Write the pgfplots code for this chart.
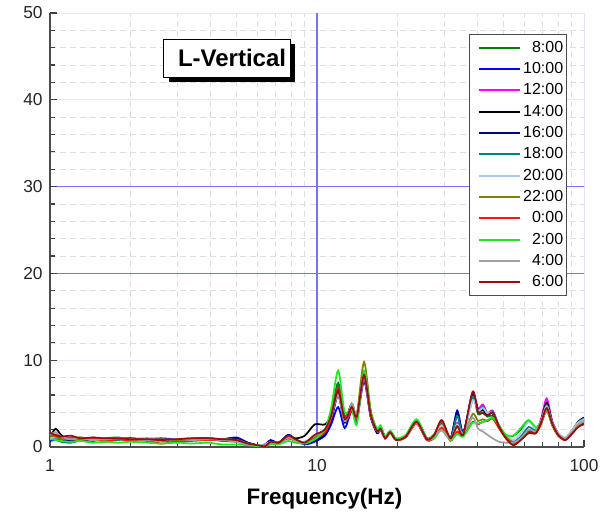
\documentclass[border=0pt]{standalone}
\usepackage{pgfplots}
\usepackage{pgfplotstable}
\pgfplotsset{compat=1.18}
\usepackage{fontspec}
\setmainfont{Liberation Sans}
\usetikzlibrary{shadows}

\definecolor{cA}{RGB}{0,128,0}
\definecolor{cB}{RGB}{0,0,255}
\definecolor{cC}{RGB}{255,0,255}
\definecolor{cD}{RGB}{0,0,0}
\definecolor{cE}{RGB}{0,0,128}
\definecolor{cF}{RGB}{0,128,128}
\definecolor{cG}{RGB}{166,202,240}
\definecolor{cH}{RGB}{128,128,0}
\definecolor{cI}{RGB}{255,20,20}
\definecolor{cJ}{RGB}{30,235,30}
\definecolor{cK}{RGB}{160,160,160}
\definecolor{cL}{RGB}{150,15,15}
\definecolor{gridblue}{RGB}{115,115,255}

\pgfplotstableread{
f    c8  c10 c12 c14 c16 c18 c20 c22 c0  c2  c4  c6
1.0  1.3 0.7 1.0 1.2 0.9 1.1 1.0 1.3 1.5 0.9 1.4 1.6
1.05 1.2 0.8 1.1 2.1 1.0 1.0 1.1 1.2 1.3 0.8 1.7 1.4
1.1  1.0 0.7 1.0 1.4 0.9 0.6 1.0 0.9 1.1 0.7 1.2 1.2
1.2  0.9 0.8 1.1 0.6 0.8 0.5 0.9 1.0 1.0 0.6 0.9 1.3
1.3  1.1 0.9 0.9 0.8 1.0 0.8 1.0 1.1 0.7 0.7 1.0 1.0
1.45 0.8 0.7 1.0 0.9 0.8 0.9 0.8 0.9 1.1 0.5 0.8 1.1
1.6  1.0 1.0 0.9 0.8 0.9 0.7 1.0 0.8 0.6 0.6 0.9 1.0
1.8  1.1 0.9 1.0 0.9 0.9 0.8 0.9 1.0 0.9 0.5 1.0 1.0
2.0  0.9 1.0 0.9 0.8 1.0 0.9 0.8 0.9 0.7 0.6 0.9 0.9
2.3  0.8 0.9 1.0 0.9 0.8 0.7 0.9 0.8 0.8 0.5 0.8 0.9
2.6  0.9 1.0 0.9 0.7 0.9 0.8 0.8 0.9 0.4 0.4 0.7 0.8
3.0  0.7 0.9 0.8 0.8 0.8 0.7 0.9 0.8 0.6 0.5 0.9 0.9
3.4  0.8 1.0 0.9 0.9 0.9 0.8 1.0 0.9 0.7 0.4 0.8 1.0
3.9  0.9 1.0 1.0 0.8 1.0 0.9 0.9 1.0 0.8 0.5 0.9 1.0
4.4  0.7 0.9 0.8 0.8 0.9 0.8 0.9 0.9 0.8 0.3 0.8 0.9
5.0  0.6 1.1 0.8 0.7 1.0 0.7 0.8 0.8 0.7 0.3 0.6 0.8
5.5  0.3 0.5 0.4 0.4 0.5 0.3 0.4 0.4 0.3 0.2 0.3 0.4
6.0  0.1 0.2 0.2 0.2 0.2 0.1 0.2 0.1 0.1 0.1 0.2 0.2
6.4  0.2 0.3 0.2 0.1 0.2 0.2 0.3 0.2 0.2 0.1 0.2 0.1
6.7  0.5 0.8 0.5 0.4 0.7 0.5 0.6 0.5 0.4 0.3 0.5 0.6
7.2  0.5 0.5 0.4 0.5 0.5 0.4 0.5 0.6 0.5 0.3 0.4 0.5
7.8  1.2 1.4 1.1 1.3 1.4 1.1 1.2 1.0 1.0 0.7 1.1 1.3
8.3  0.9 0.8 0.7 1.0 0.9 0.8 0.8 0.7 0.8 0.5 0.7 0.9
9.0  0.4 0.3 0.5 1.3 0.4 0.4 0.5 0.6 0.5 0.4 0.6 0.5
9.8  1.0 0.6 0.8 2.6 0.7 0.9 1.0 1.1 1.0 0.9 1.3 1.4
10.7 1.8 1.3 1.6 2.6 1.4 1.7 1.8 1.9 1.7 2.0 2.0 2.0
11.3 3.8 2.6 3.4 3.6 3.0 3.5 3.6 3.4 3.3 4.5 3.5 3.6
12.0 7.4 4.6 6.2 6.5 6.0 7.0 6.4 6.3 6.8 8.8 6.0 6.5
12.7 3.6 2.2 3.0 3.2 2.8 3.4 3.0 3.2 3.1 4.0 3.0 3.2
13.5 4.6 4.2 4.4 5.0 4.5 4.8 4.3 4.6 4.2 4.4 5.0 4.6
14.1 3.4 3.0 3.3 3.6 3.4 3.6 3.2 3.8 3.2 2.6 3.7 3.5
15.0 8.4 7.6 8.2 8.6 8.0 8.5 8.0 9.8 8.1 8.8 8.3 8.3
15.9 3.8 3.4 3.6 3.9 3.5 3.8 3.6 4.2 3.5 4.0 3.7 3.7
16.8 1.9 1.6 1.8 1.6 1.7 1.9 1.8 2.0 1.8 2.1 1.8 1.8
17.3 2.2 2.0 2.1 2.4 2.1 2.2 2.0 2.3 2.0 2.5 2.1 2.1
18.0 1.1 1.0 1.0 1.1 1.0 1.1 1.0 1.2 1.0 1.2 1.0 1.0
18.8 1.7 1.6 1.7 1.8 1.6 1.7 1.6 1.8 1.7 1.9 1.6 1.7
19.8 0.9 0.8 0.8 0.9 0.8 0.9 0.8 0.9 0.8 1.0 0.8 0.8
21.5 1.3 1.2 1.2 1.3 1.2 1.3 1.2 1.3 1.1 1.4 1.2 1.2
23.6 3.0 2.8 2.9 3.1 2.9 3.0 2.8 3.1 2.7 3.2 2.8 2.9
25.8 0.9 0.8 0.9 1.0 0.9 0.9 0.9 1.0 0.8 1.0 0.9 0.9
27.5 1.3 1.2 1.2 1.4 1.3 1.3 1.2 1.5 1.0 1.0 1.3 1.4
29.3 2.6 2.6 2.8 3.0 2.7 2.6 2.5 2.9 2.2 2.0 1.9 3.1
31.6 0.9 0.9 0.9 1.0 0.9 0.9 0.9 0.7 0.8 0.8 0.9 1.0
33.5 2.5 4.2 2.8 3.8 4.0 3.6 2.6 1.8 1.7 1.5 2.3 2.4
35.3 1.5 1.6 1.5 1.6 1.6 1.5 1.4 1.3 1.3 1.2 1.6 1.4
38.3 5.8 5.6 5.5 6.3 6.0 5.8 5.4 3.8 2.9 2.8 3.4 6.4
40.1 3.8 4.3 4.4 4.1 4.3 4.0 4.2 3.0 2.6 2.7 2.1 4.0
41.8 4.0 4.6 4.9 4.3 4.4 4.6 4.5 3.2 2.9 2.9 1.8 3.9
43.5 3.5 3.8 3.9 3.7 3.8 3.9 3.9 3.0 3.0 3.1 1.4 3.6
45.5 3.6 4.0 4.2 3.9 3.9 4.1 4.0 3.3 3.3 3.4 1.0 4.0
48.0 2.2 2.4 2.5 2.3 2.4 2.5 2.4 2.2 2.2 2.5 0.6 2.4
51.0 1.3 1.2 1.3 1.1 1.2 1.3 1.4 1.2 1.0 1.4 0.5 1.0
54.4 1.3 0.5 0.6 0.4 0.5 0.6 0.8 0.5 0.4 1.3 0.5 0.2
58.0 2.0 1.1 1.1 0.9 1.0 1.2 1.6 1.0 0.9 2.2 1.0 0.8
62.0 3.0 1.9 1.8 1.7 1.8 2.3 2.9 1.7 1.6 3.1 2.0 1.6
66.0 2.2 1.7 1.7 1.6 1.7 1.9 2.2 1.6 1.6 2.3 1.8 1.6
69.0 3.0 2.8 3.2 3.0 2.9 2.9 3.0 2.7 2.6 2.8 2.9 2.8
72.5 4.6 5.0 5.6 5.1 4.8 4.8 4.7 4.4 4.2 4.3 4.5 4.5
76.0 2.6 2.8 3.0 2.9 2.7 2.8 2.8 2.6 2.5 2.6 2.7 2.7
80.0 1.4 1.5 1.6 1.5 1.4 1.5 1.6 1.4 1.3 1.4 1.5 1.4
85.0 0.9 0.9 1.0 0.8 0.9 1.0 1.1 0.9 0.8 0.9 1.0 0.8
90.0 1.6 1.7 1.7 1.8 1.7 1.9 1.9 1.6 1.5 1.6 1.7 1.5
95.0 2.5 2.6 2.6 2.9 2.7 2.8 2.8 2.4 2.3 2.4 2.6 2.3
100  3.0 3.1 3.0 3.4 3.2 3.3 3.2 2.8 2.6 2.8 3.0 2.7
}\data

\begin{document}
\begin{tikzpicture}
\path[use as bounding box] (-37.5pt,-51pt) rectangle (422.25pt,335.25pt);
\begin{axis}[
  anchor=south west, at={(0,0)},
  scale only axis, width=400.5pt, height=325.5pt,
  xmode=log, xmin=1, xmax=100, ymin=0, ymax=50,
  xtick={1,100}, xticklabels={1,100},
  minor xtick={2,3,4,5,6,7,8,9,20,30,40,50,60,70,80,90},
  extra x ticks={10}, extra x tick labels={10},
  extra x tick style={grid=major, major grid style={draw=gridblue, line width=0.8pt}},
  ytick={0,10,40,50},
  minor ytick={2,4,6,8,12,14,16,18,22,24,26,28,32,34,36,38,42,44,46,48},
  extra y ticks={20,30}, extra y tick labels={20,30},
  extra y tick style={grid=major, major grid style={draw=gridblue, line width=0.8pt}},
  xmajorgrids=true, ymajorgrids=true, xminorgrids=true, yminorgrids=true,
  major grid style={draw=gridblue!18, line width=0.6pt},
  minor grid style={draw=black!13, line width=0.5pt, dash pattern=on 4.5pt off 3pt},
  axis x line*=bottom, axis y line*=left,
  x axis line style={-, line width=1.6pt, draw=black!70},
  y axis line style={-, line width=1.6pt, draw=black!70},
  tick align=inside,
  major tick length=5pt, minor tick length=3.5pt,
  tick style={line width=0.9pt, draw=black!75},
  /pgf/number format/assume math mode=true,
  ticklabel style={font=\fontsize{13}{15}\selectfont, text=black!85},
  xticklabel style={yshift=-6pt},
  yticklabel style={xshift=-2pt},
  xlabel={Frequency(Hz)},
  xlabel style={font=\fontsize{16.8}{19}\selectfont\bfseries, at={(axis description cs:0.514,0)}, anchor=center, yshift=-39pt},
  legend cell align=right,
  legend style={at={(rel axis cs:0.968,0.952)}, anchor=north east,
    draw=black!70, line width=0.6pt, fill=white,
    font=\fontsize{12}{14}\selectfont,
    inner xsep=1pt, inner ysep=2.5pt, row sep=1pt,
    nodes={inner sep=1.5pt, text height=9.5pt, text depth=2.5pt}},
  legend image code/.code={\path (0pt,0pt); \draw[#1, line width=1.6pt] (5pt,0pt) -- (36pt,0pt);},
  every axis plot/.append style={line width=1.3pt, smooth, tension=0.45},
]
\addplot[cA] table[x=f,y=c8]  {\data}; \addlegendentry{ 8:00}
\addplot[cB] table[x=f,y=c10] {\data}; \addlegendentry{10:00}
\addplot[cC] table[x=f,y=c12] {\data}; \addlegendentry{12:00}
\addplot[cD] table[x=f,y=c14] {\data}; \addlegendentry{14:00}
\addplot[cE] table[x=f,y=c16] {\data}; \addlegendentry{16:00}
\addplot[cF] table[x=f,y=c18] {\data}; \addlegendentry{18:00}
\addplot[cG] table[x=f,y=c20] {\data}; \addlegendentry{20:00}
\addplot[cH] table[x=f,y=c22] {\data}; \addlegendentry{22:00}
\addplot[cI] table[x=f,y=c0]  {\data}; \addlegendentry{0:00}
\addplot[cJ] table[x=f,y=c2]  {\data}; \addlegendentry{2:00}
\addplot[cK] table[x=f,y=c4]  {\data}; \addlegendentry{4:00}
\addplot[cL] table[x=f,y=c6]  {\data}; \addlegendentry{6:00}
\node[draw=black, line width=0.8pt, fill=white, inner xsep=3pt, inner ysep=0pt,
      text width=89pt, align=right, minimum height=28.5pt,
      font=\fontsize{18}{20}\selectfont\bfseries,
      general shadow={fill=black, shadow xshift=4pt, shadow yshift=-4pt}]
  at (rel axis cs:0.331,0.896) {L-Vertical};
\end{axis}
\end{tikzpicture}
\end{document}
